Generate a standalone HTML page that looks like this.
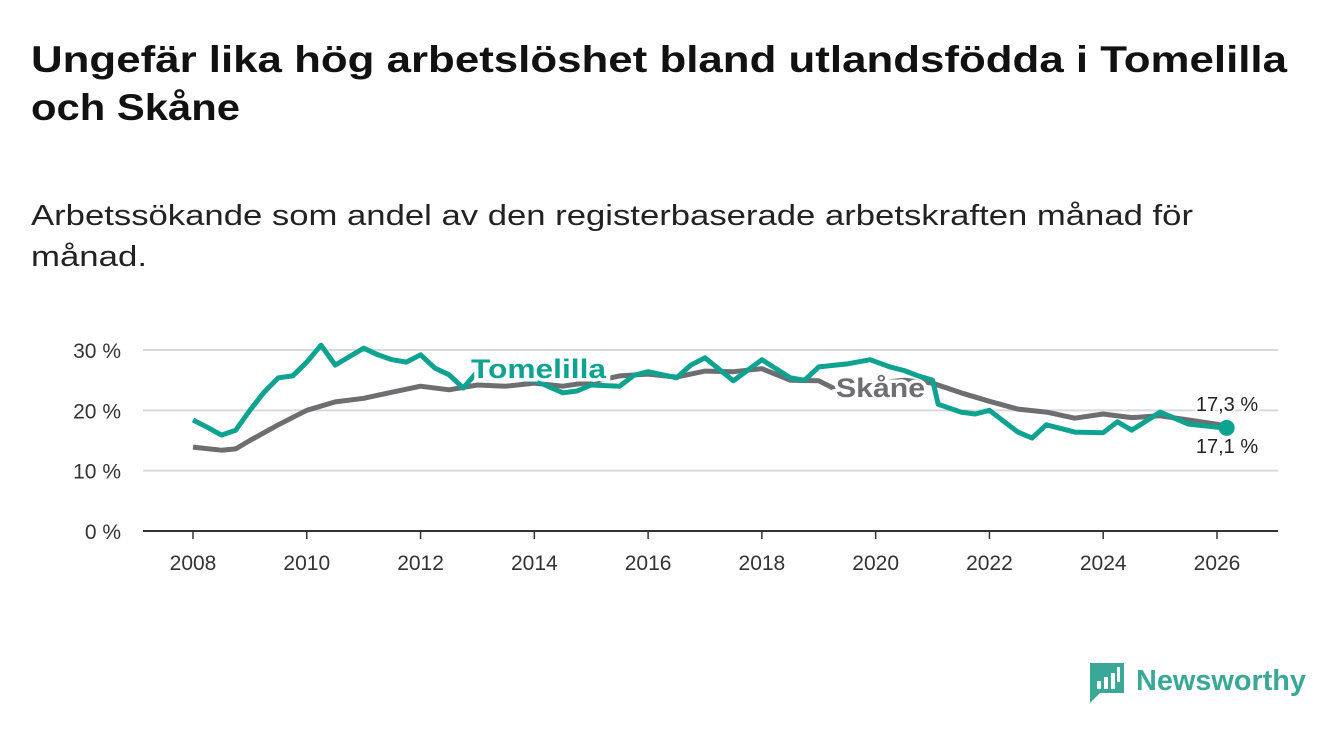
<!DOCTYPE html>
<html><head><meta charset="utf-8"><style>
body{margin:0;width:1340px;height:734px;background:#fff;font-family:"Liberation Sans",sans-serif;overflow:hidden;position:relative}
svg{position:absolute;left:0;top:0}
</style></head><body>
<svg id="chart" width="1340" height="734">
<g font-family="Liberation Sans,sans-serif" font-weight="bold" font-size="37" fill="#111">
<text x="31" y="72" textLength="1256" lengthAdjust="spacingAndGlyphs">Ungefär lika hög arbetslöshet bland utlandsfödda i Tomelilla</text>
<text x="31" y="120" textLength="209" lengthAdjust="spacingAndGlyphs">och Skåne</text>
</g>
<g font-family="Liberation Sans,sans-serif" font-size="29" fill="#222">
<text x="31" y="225" textLength="1162" lengthAdjust="spacingAndGlyphs">Arbetssökande som andel av den registerbaserade arbetskraften månad för</text>
<text x="31" y="266" textLength="116" lengthAdjust="spacingAndGlyphs">månad.</text>
</g>
</svg>
<script>
const years=[2008,2010,2012,2014,2016,2018,2020,2022,2024,2026];
const yTicks=[0,10,20,30];
const skaneX=[2008,2008.5,2008.75,2009,2009.5,2010,2010.5,2011,2011.5,2012,2012.5,2013,2013.5,2014,2014.5,2015,2015.5,2016,2016.5,2017,2017.5,2018,2018.5,2019,2019.25,2020,2020.5,2021,2021.5,2022,2022.5,2023,2023.5,2024,2024.5,2025,2025.5,2026,2026.17];
const skaneY=[13.9,13.4,13.6,15,17.6,20,21.4,22,23,24,23.4,24.2,24,24.5,24,24.7,25.7,26,25.5,26.5,26.4,26.9,25,24.9,23.7,24.5,25,24.5,22.9,21.5,20.2,19.7,18.7,19.4,18.8,19.1,18.4,17.7,17.3];
const tomX=[2008,2008.25,2008.5,2008.75,2009,2009.25,2009.5,2009.75,2010,2010.25,2010.5,2010.75,2011,2011.25,2011.5,2011.75,2012,2012.25,2012.5,2012.75,2013,2013.5,2014,2014.5,2014.75,2015,2015.5,2015.75,2016,2016.5,2016.75,2017,2017.5,2018,2018.5,2018.75,2019,2019.5,2019.9,2020.25,2020.5,2020.75,2021,2021.1,2021.5,2021.75,2022,2022.5,2022.75,2023,2023.5,2024,2024.25,2024.5,2025,2025.5,2026,2026.17];
const tomY=[18.4,17.2,15.9,16.7,20,23,25.4,25.7,28,30.8,27.5,28.9,30.3,29.2,28.4,28,29.2,27,25.9,23.7,26.4,25.4,25,22.9,23.2,24.2,24,25.8,26.4,25.4,27.5,28.7,24.9,28.4,25.4,25,27.2,27.7,28.4,27.2,26.6,25.7,25,21,19.7,19.4,20,16.4,15.4,17.6,16.4,16.3,18.1,16.7,19.7,17.7,17.2,17.1];
const svg=document.getElementById('chart');const NS='http://www.w3.org/2000/svg';
const x=v=>193+(v-2008)*(1217-193)/18;
const y=v=>531-v*(181/30);
function mk(t,a,p){const e=document.createElementNS(NS,t);for(const k in a)e.setAttribute(k,a[k]);(p||svg).appendChild(e);return e;}
yTicks.forEach(t=>{
 const l=mk('line',{x1:143,x2:1278,y1:y(t),y2:y(t),stroke:t?'#d9d9d9':'#333','stroke-width':2});
 
 
 const tx=mk('text',{x:121,y:y(t)+8,'text-anchor':'end','font-size':21,fill:'#333','font-family':'Liberation Sans,sans-serif'});tx.textContent=t+' %';
 
 
});
years.forEach(t=>{
 const l=mk('line',{x1:x(t),x2:x(t),y1:531,y2:539,stroke:'#333','stroke-width':1.5});
 
 
 const tx=mk('text',{x:x(t),y:570,'text-anchor':'middle','font-size':21,fill:'#333'});tx.textContent=t;
 
 
});
function line(xs,ys,c,n){const d=xs.map((v,i)=>(i?'L':'M')+x(v).toFixed(1)+','+y(ys[i]).toFixed(1)).join('');
 const p=mk('path',{d:d,fill:'none',stroke:c,'stroke-width':5,'stroke-linejoin':'round'});
 
 }
line(skaneX,skaneY,'#6e6d72','skane-line');
line(tomX,tomY,'#0ea391','tomelilla-line');
function lab(t,xx,yy,c,n,w){const e=mk('text',{x:xx,y:yy,'font-size':27,'font-weight':'bold',fill:c,stroke:'#fff','stroke-width':7,'paint-order':'stroke',textLength:w,lengthAdjust:'spacingAndGlyphs'});e.textContent=t;
 
 }
lab('Tomelilla',471,378,'#0ea391','tomelilla-label',135);
lab('Skåne',836,397,'#6e6d72','skane-label',89);
const dot=mk('circle',{cx:x(2026.17),cy:y(17.1),r:8,fill:'#0ea391'});


function vl(t,yy,n){const e=mk('text',{x:1227,y:yy,'text-anchor':'middle','font-size':20,fill:'#222',stroke:'#fff','stroke-width':5,'paint-order':'stroke'});e.textContent=t;
 
 }
vl('17,3 %',411,'skane-end-value');
vl('17,1 %',453,'tomelilla-end-value');
const g=mk('g',{});


mk('path',{d:'M1090,663 h34 v30 h-24 l-10,10 z',fill:'#3aa897'},g);
mk('rect',{x:1097,y:681,width:4,height:8,fill:'#fff'},g);
mk('rect',{x:1104,y:677,width:4,height:12,fill:'#fff'},g);
mk('rect',{x:1111,y:673,width:4,height:16,fill:'#fff'},g);
mk('rect',{x:1117,y:667,width:3,height:15,fill:'#fff'},g);
const lt=mk('text',{x:1136,y:690,'font-size':29,'font-weight':'bold',fill:'#3aa897',textLength:170,lengthAdjust:'spacingAndGlyphs'},g);lt.textContent='Newsworthy';
</script>
</body></html>
